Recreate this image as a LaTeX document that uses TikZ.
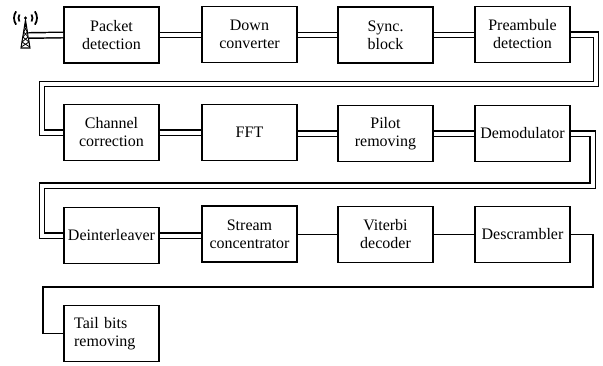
\documentclass[tikz,border=0pt]{standalone}
\usepackage{fontspec}
\setmainfont{Liberation Serif}
\begin{document}
\begin{tikzpicture}[x=0.75pt,y=-0.75pt,
  blk/.style={draw, line width=1.2pt, minimum width=71.25pt, minimum height=42pt,
    align=center, inner sep=2pt, font=\fontsize{12}{13.5}\selectfont},
  dbl/.style={draw, line width=1.1pt, double=white, double distance=3pt, line join=miter},
  sgl/.style={draw, line width=1.2pt, line join=miter},
  ant/.style={line width=0.8pt},
  wave/.style={line width=1.3pt}
]
\useasboundingbox (0,0) rectangle (603,365);
% row 1
\node[blk] (pd) at (111.5,35) {Packet\\detection};
\node[blk] (dc) at (249.5,34.5) {Down\\converter};
\node[blk] (sb) at (385.5,35) {Sync.\\block};
\node[blk] (pa) at (522.5,34.5) {Preambule\\detection};
% row 2
\node[blk] (cc) at (111.5,132.5) {Channel\\correction};
\node[blk] (ff) at (249.5,132.5) {FFT};
\node[blk] (pr) at (385.5,133.5) {Pilot\\removing};
\node[blk] (dm) at (522.5,133.5) {Demodulator};
% row 3
\node[blk] (di) at (111.5,235.5) {Deinterleaver};
\node[blk] (sc) at (249.5,234) {Stream\\concentrator};
\node[blk] (vd) at (385.5,234.5) {Viterbi\\decoder};
\node[blk] (ds) at (522.5,234.5) {Descrambler};
% row 4
\node[blk, text width=56pt, align=left] (tb) at (111.5,333.5) {Tail bits\\removing};

% antenna
\coordinate (ant) at (28.5,35.5);
\fill (25.5,18) circle (1.6);
\draw[wave] (25.5,18) ++(150:7) arc (150:210:7);
\draw[wave] (25.5,18) ++(145:11.5) arc (145:215:11.5);
\draw[wave] (25.5,18) ++(30:7) arc (30:-30:7);
\draw[wave] (25.5,18) ++(35:11.5) arc (35:-35:11.5);
\draw[ant, line join=miter] (25.5,20) -- (21,48) -- (30,48) -- cycle;
\draw[ant] (25.5,22) -- (25.5,27);
\draw[line width=0.6pt] (24.5,27) -- (27.33,32) -- (22.83,37) -- (29,42) -- (21.17,47);
\draw[line width=0.6pt] (26.5,27) -- (23.67,32) -- (28.17,37) -- (22,42) -- (29.83,47);

% connectors row 1
\draw[dbl] (ant) -- (pd.west);
\draw[dbl] (pd.east) -- (dc.west |- pd.east);
\draw[dbl] (dc.east |- sb.west) -- (sb.west);
\draw[dbl] (sb.east) -- (pa.west |- sb.east);
\draw[dbl] (pa.east) -| (596,84) -- (42,84) |- (cc.west);
% row 2
\draw[dbl] (cc.east) -- (ff.west);
\draw[dbl] (ff.east |- pr.west) -- (pr.west);
\draw[dbl] (pr.east) -- (dm.west);
\draw[dbl] (dm.east) -| (592.5,185.5) -- (42,185.5) |- (di.west);
% row 3
\draw[dbl] (di.east) -- (sc.west |- di.east);
\draw[sgl] (sc.east |- vd.west) -- (vd.west);
\draw[sgl] (vd.east) -- (ds.west);
\draw[sgl] (ds.east) -| (593,287) -- (43,287) |- (tb.west);
\end{tikzpicture}
\end{document}
